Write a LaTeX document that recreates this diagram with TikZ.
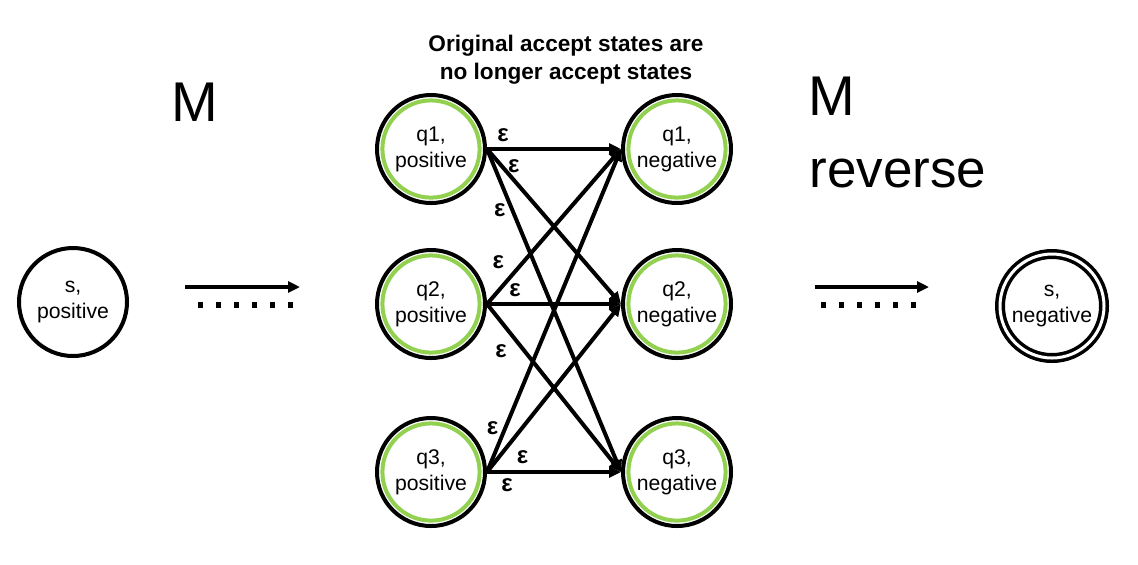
\documentclass[tikz,border=0pt]{standalone}
\usepackage{fontspec}
\setmainfont{Liberation Sans}
\usetikzlibrary{arrows.meta}
\definecolor{acceptgreen}{HTML}{92D050}

\tikzset{
  state/.style={draw, circle, line width=2pt, minimum size=54pt, inner sep=0pt,
    align=center, font=\fontsize{10.6}{13}\selectfont,
    execute at begin node={\rule{0pt}{15pt}}},
  oldaccept/.style={state, path picture={
    \draw[acceptgreen, line width=2pt] (path picture bounding box.center) circle (24.3pt);}},
  newaccept/.style={state, double, line width=1.75pt, double distance=1.5pt, minimum size=52pt},
  eps/.style={font=\fontsize{12}{12}\selectfont\bfseries, inner sep=2.5pt},
  bigtext/.style={font=\fontsize{28}{34}\selectfont, inner sep=0pt, anchor=base west},
  dotrun/.style={line width=2.6pt, dash pattern=on 2.6pt off 6.4pt},
}

\begin{document}
\begin{tikzpicture}[x=0.5pt, y=-0.5pt, >={Triangle[length=6pt,width=5.5pt]}]
\useasboundingbox (0,0) rectangle (1138,564);

\node[font=\fontsize{11.3}{14}\selectfont\bfseries, align=center, inner sep=0pt] (note) at (566,60)
  {Original accept states are\\no longer accept states};
\node[bigtext] (m) at (171,121) {M};
\node[bigtext] (mr) at (808,115) {M};
\node[bigtext, font=\fontsize{26.5}{34}\selectfont] (rev) at (809,187) {reverse};

% states
\node[state] (s) at (73,302) {s,\\positive};
\foreach \i/\y in {1/149, 2/304, 3/472} {
  \node[oldaccept] (p\i) at (431,\y) {q\i,\\positive};
  \node[oldaccept] (n\i) at (677,\y) {q\i,\\negative};
}
\node[newaccept] (sn) at (1052,306) {s,\\negative};

% epsilon moves
\foreach \i/\j/\p/\a in {1/1/0.12/south, 1/2/0.2/south, 1/3/0.19/east,
    2/1/0.18/south east, 2/2/0.21/south, 2/3/0.2/north east,
    3/1/0.136/east, 3/2/0.17/north west, 3/3/0.15/north}
  \draw[->, line width=2pt] (p\i.east) -- node[eps, pos=\p, anchor=\a] {ε} (n\j.west);

% the rest of M and of M reverse
\coordinate (l1) at (185,287); \coordinate (l2) at (300,287);
\coordinate (r1) at (815,287); \coordinate (r2) at (929,287);
\draw[->, line width=2pt] (l1) -- (l2);
\draw[dotrun] (198,305) -- (293,305);
\draw[->, line width=2pt] (r1) -- (r2);
\draw[dotrun] (821,305) -- (916,305);
\end{tikzpicture}
\end{document}
